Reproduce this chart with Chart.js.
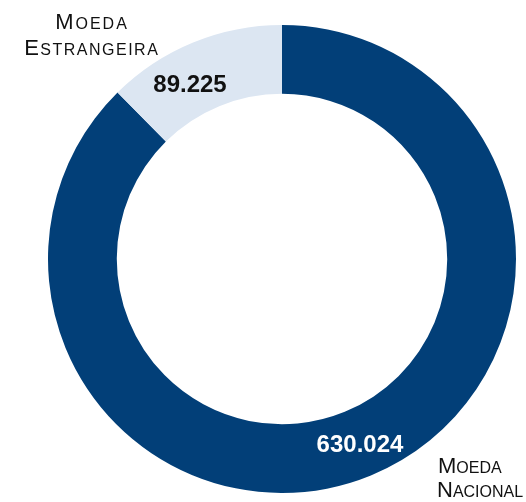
<!DOCTYPE html>
<html>
<head>
<meta charset="utf-8">
<script src="https://cdn.jsdelivr.net/npm/chart.js@4.4.1/dist/chart.umd.min.js"></script>
<style>
    html, body { margin: 0; padding: 0; background: #ffffff; }
    canvas { display: block; }
</style>
</head>
<body>
<canvas id="fundingChart" width="526" height="502"></canvas>
<script>
// values (R$ mil)
const categories = ['Moeda Nacional', 'Moeda Estrangeira'];
const values = [630024, 89225];
const sliceColors = ['#023f78', '#dce6f2'];

function formatThousands(n) {
    return String(n).replace(/\B(?=(\d{3})+(?!\d))/g, '.');
}

// small-caps text: first letter large, the rest smaller
function drawSmallCaps(ctx, word, x, y, align, spacing) {
    const big = '22px "Liberation Sans", Arial, sans-serif';
    const small = '16px "Liberation Sans", Arial, sans-serif';
    const first = word.charAt(0).toUpperCase();
    const rest = word.slice(1).toUpperCase();
    ctx.letterSpacing = spacing + 'px';
    ctx.font = big;
    const w1 = ctx.measureText(first).width;
    ctx.font = small;
    const w2 = ctx.measureText(rest).width - spacing;
    let start = x;
    if (align === 'center') start = x - (w1 + w2) / 2;
    ctx.textAlign = 'left';
    ctx.textBaseline = 'alphabetic';
    ctx.font = big;
    ctx.fillText(first, start, y);
    ctx.font = small;
    ctx.fillText(rest, start + w1, y);
    ctx.letterSpacing = '0px';
}

const labelPlugin = {
    id: 'labelPlugin',
    afterDatasetsDraw(chart) {
        const ctx = chart.ctx;
        const arcs = chart.getDatasetMeta(0).data;
        const cx = arcs[0].x;
        const cy = arcs[0].y;
        ctx.save();

        // value labels inside the ring
        const valueSpots = [
            { dx: 78, dy: 186, color: '#ffffff' },
            { dx: -92, dy: -174, color: '#111111' }
        ];
        ctx.font = 'bold 24px "Liberation Sans", Arial, sans-serif';
        ctx.textAlign = 'center';
        ctx.textBaseline = 'middle';
        values.forEach(function (v, i) {
            ctx.fillStyle = valueSpots[i].color;
            ctx.fillText(formatThousands(v), cx + valueSpots[i].dx, cy + valueSpots[i].dy);
        });

        // category labels outside the ring
        ctx.fillStyle = '#111111';
        const nacional = categories[0].split(' ');
        drawSmallCaps(ctx, nacional[0], cx + 156, cy + 214, 'left', 0);
        drawSmallCaps(ctx, nacional[1], cx + 155, cy + 238, 'left', 0);
        const estrangeira = categories[1].split(' ');
        drawSmallCaps(ctx, estrangeira[0], cx - 191, cy - 230, 'center', 2);
        drawSmallCaps(ctx, estrangeira[1], cx - 191, cy - 204, 'center', 1.5);

        ctx.restore();
    }
};

new Chart(document.getElementById('fundingChart').getContext('2d'), {
    type: 'doughnut',
    data: {
        labels: categories,
        datasets: [{
            data: values,
            backgroundColor: sliceColors,
            borderWidth: 0,
            hoverOffset: 0
        }]
    },
    options: {
        responsive: false,
        animation: false,
        cutout: '70.6%',
        layout: {
            padding: { top: 25, bottom: 9, left: 48, right: 10 }
        },
        plugins: {
            legend: { display: false },
            tooltip: { enabled: false }
        }
    },
    plugins: [labelPlugin]
});
</script>
</body>
</html>
